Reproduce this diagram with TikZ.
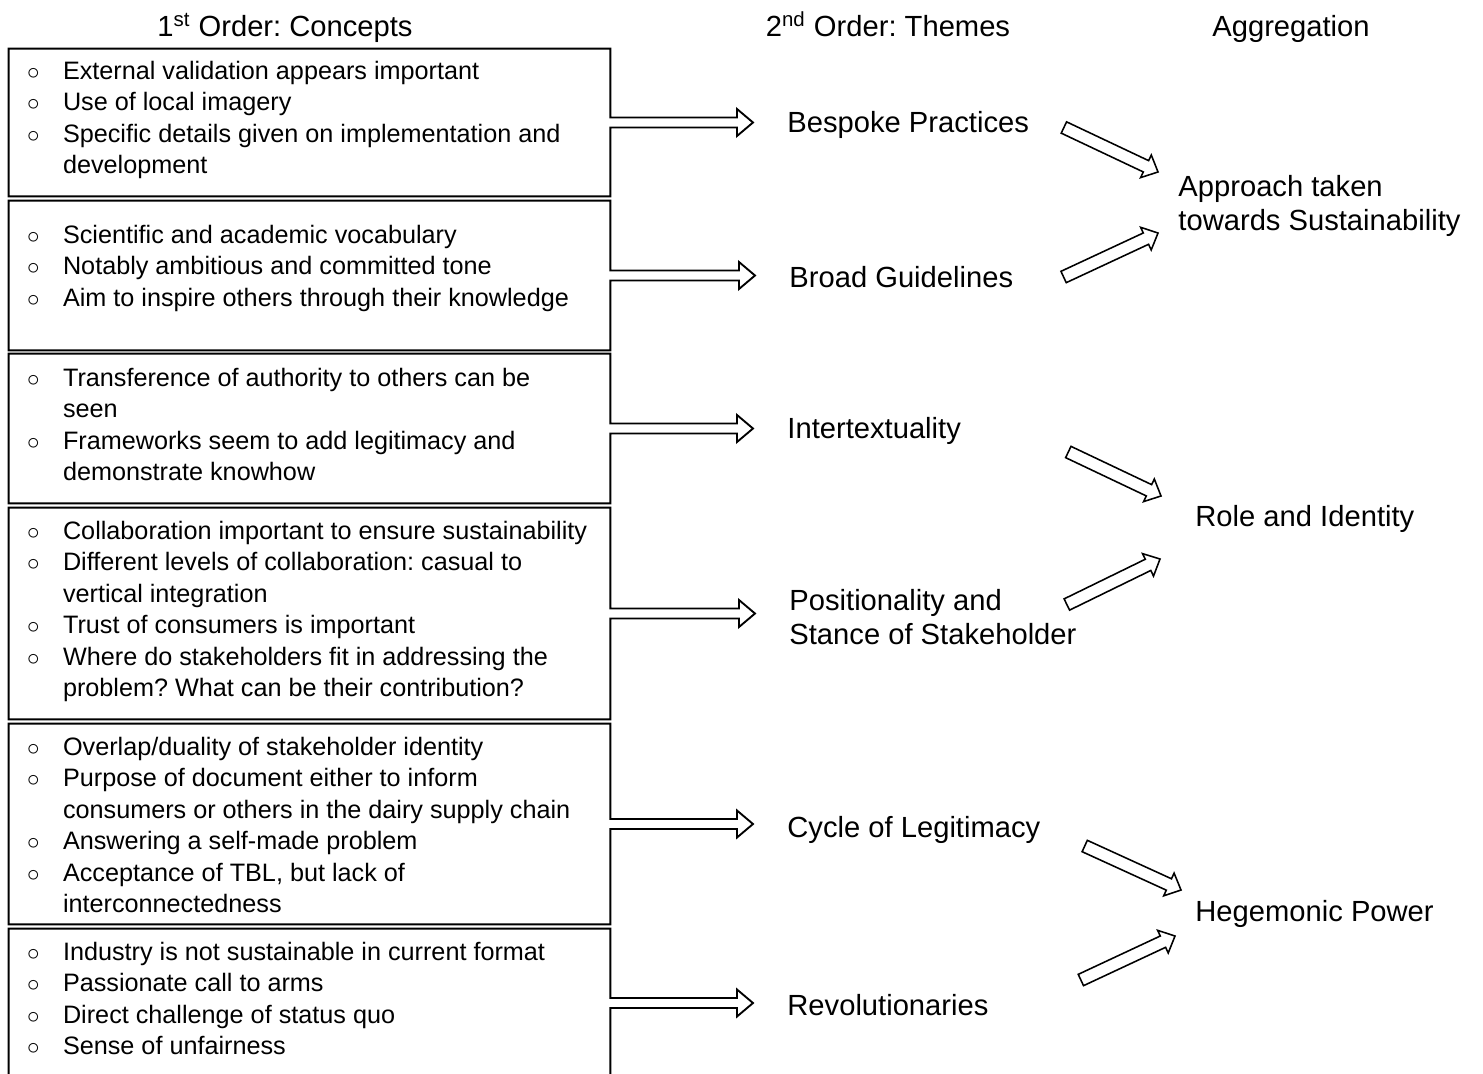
\documentclass[tikz,border=0pt]{standalone}
\usepackage{fontspec}
\setmainfont{Liberation Sans}
\usetikzlibrary{calc, fit, positioning}
\frenchspacing

\tikzset{
  outline/.style={draw=black, line width=0.9pt, line join=miter},
  framebox/.style={inner sep=0pt},
  itemtext/.style={inner sep=0pt, font=\fontsize{12.1}{15.07}\selectfont},
  theme/.style={inner sep=0pt, align=left, font=\fontsize{14}{16.3}\selectfont},
  heading/.style={inner sep=0pt, font=\fontsize{14}{16.3}\selectfont}
}

\newcommand{\bl}{{\fontsize{13}{13}\selectfont$\circ$}}

% box outline that runs out into a hollow arrow towards its theme
\newcommand{\boxarrow}[2]{%
  \draw[outline] ($(#1.east)+(0,-5)$) -- (#1.north east) -- (#1.north west)
    -- (#1.south west) -- (#1.south east) -- ($(#1.east)+(0,5)$)
    -- ($(#1.east -| #2.west)+(-50,5)$) -- ($(#1.east -| #2.west)+(-50,13.5)$)
    -- ($(#1.east -| #2.west)+(-34,0)$) -- ($(#1.east -| #2.west)+(-50,-13.5)$)
    -- ($(#1.east -| #2.west)+(-50,-5)$) -- cycle;}

% hollow block arrow between two points
\newcommand{\hollowarrow}[2]{%
  \coordinate (ha-tail) at (#1);
  \coordinate (ha-tip) at (#2);
  \coordinate (ha-neck) at ($(ha-tip)!6.4pt!(ha-tail)$);
  \draw[outline, line width=0.75pt] ($(ha-tail)!3pt!90:(ha-tip)$) -- ($(ha-neck)!3pt!90:(ha-tip)$)
    -- ($(ha-neck)!6pt!90:(ha-tip)$) -- (ha-tip) -- ($(ha-neck)!6pt!-90:(ha-tip)$)
    -- ($(ha-neck)!3pt!-90:(ha-tip)$) -- ($(ha-tail)!3pt!-90:(ha-tip)$) -- cycle;}

\begin{document}
\begin{tikzpicture}[x=0.48pt, y=-0.48pt]
\useasboundingbox (0,0) rectangle (1483,1073);

% Column headings
\node[heading, anchor=base] (h1) at (285,37) {1\textsuperscript{st} Order: Concepts};
\node[heading, anchor=base] (h2) at (888,37) {2\textsuperscript{nd} Order: Themes};
\node[heading, anchor=base] (h3) at (1291,37) {Aggregation};

% Concept boxes
\node[framebox, fit={(9,49) (610,196)}] (c1) {};
\node[framebox, fit={(9,201) (610,350)}] (c2) {};
\node[framebox, fit={(9,354) (610,503)}] (c3) {};
\node[framebox, fit={(9,508) (610,719)}] (c4) {};
\node[framebox, fit={(9,724) (610,924)}] (c5) {};
\node[framebox, fit={(9,929) (610,1077)}] (c6) {};

% Concept texts
\node[itemtext, anchor=base west] (c1t) at ($(c1.north west)+(18,31)$) {\begin{tabular}[t]{@{}p{17.3pt}@{}l@{}}
\bl & External validation appears important\\
\bl & Use of local imagery\\
\bl & Specific details given on implementation and\\
    & development
\end{tabular}};
\node[itemtext, anchor=base west] (c2t) at ($(c2.north west)+(18,43)$) {\begin{tabular}[t]{@{}p{17.3pt}@{}l@{}}
\bl & Scientific and academic vocabulary\\
\bl & Notably ambitious and committed tone\\
\bl & Aim to inspire others through their knowledge
\end{tabular}};
\node[itemtext, anchor=base west] (c3t) at ($(c3.north west)+(18,33)$) {\begin{tabular}[t]{@{}p{17.3pt}@{}l@{}}
\bl & Transference of authority to others can be\\
    & seen\\
\bl & Frameworks seem to add legitimacy and\\
    & demonstrate knowhow
\end{tabular}};
\node[itemtext, anchor=base west] (c4t) at ($(c4.north west)+(18,32)$) {\begin{tabular}[t]{@{}p{17.3pt}@{}l@{}}
\bl & Collaboration important to ensure sustainability\\
\bl & Different levels of collaboration: casual to\\
    & vertical integration\\
\bl & Trust of consumers is important\\
\bl & Where do stakeholders fit in addressing the\\
    & problem? What can be their contribution?
\end{tabular}};
\node[itemtext, anchor=base west] (c5t) at ($(c5.north west)+(18,32)$) {\begin{tabular}[t]{@{}p{17.3pt}@{}l@{}}
\bl & Overlap/duality of stakeholder identity\\
\bl & Purpose of document either to inform\\
    & consumers or others in the dairy supply chain\\
\bl & Answering a self-made problem\\
\bl & Acceptance of TBL, but lack of\\
    & interconnectedness
\end{tabular}};
\node[itemtext, anchor=base west] (c6t) at ($(c6.north west)+(18,32)$) {\begin{tabular}[t]{@{}p{17.3pt}@{}l@{}}
\bl & Industry is not sustainable in current format\\
\bl & Passionate call to arms\\
\bl & Direct challenge of status quo\\
\bl & Sense of unfairness
\end{tabular}};

% Themes (two-line nodes sit on their last line)
\node[theme, anchor=base west] (t1) at (787,132) {Bespoke Practices};
\node[theme, anchor=base west] (t2) at (789,287) {Broad Guidelines};
\node[theme, anchor=base west] (t3) at (787,438) {Intertextuality};
\node[theme, anchor=base west] (t4) at (789,644) {Positionality and\\Stance of Stakeholder};
\node[theme, anchor=base west] (t5) at (787,837) {Cycle of Legitimacy};
\node[theme, anchor=base west] (t6) at (787,1015) {Revolutionaries};

% Aggregations
\node[theme, anchor=base west] (g1) at (1178,230) {Approach taken\\towards Sustainability};
\node[theme, anchor=base west] (g2) at (1195,526) {Role and Identity};
\node[theme, anchor=base west] (g3) at (1195,921) {Hegemonic Power};

% Boxes into themes
\foreach \i in {1,...,6}
  \boxarrow{c\i}{t\i};

% Themes into aggregations
\hollowarrow{$(t1.base east)+(34.5,-4.5)$}{$(g1.base west)+(-20,-58)$}
\hollowarrow{$(t2.base east)+(50,-10)$}{$(g1.base west)+(-20,3)$}
\hollowarrow{$(t3.base east)+(107,14)$}{$(g2.base west)+(-34,-30)$}
\hollowarrow{$(t4.base east)+(-10,-39.5)$}{$(g2.base west)+(-35,33)$}
\hollowarrow{$(t5.base east)+(44,9)$}{$(g3.base west)+(-14,-31)$}
\hollowarrow{$(t6.base east)+(92,-35)$}{$(g3.base west)+(-20,15)$}
\end{tikzpicture}
\end{document}
